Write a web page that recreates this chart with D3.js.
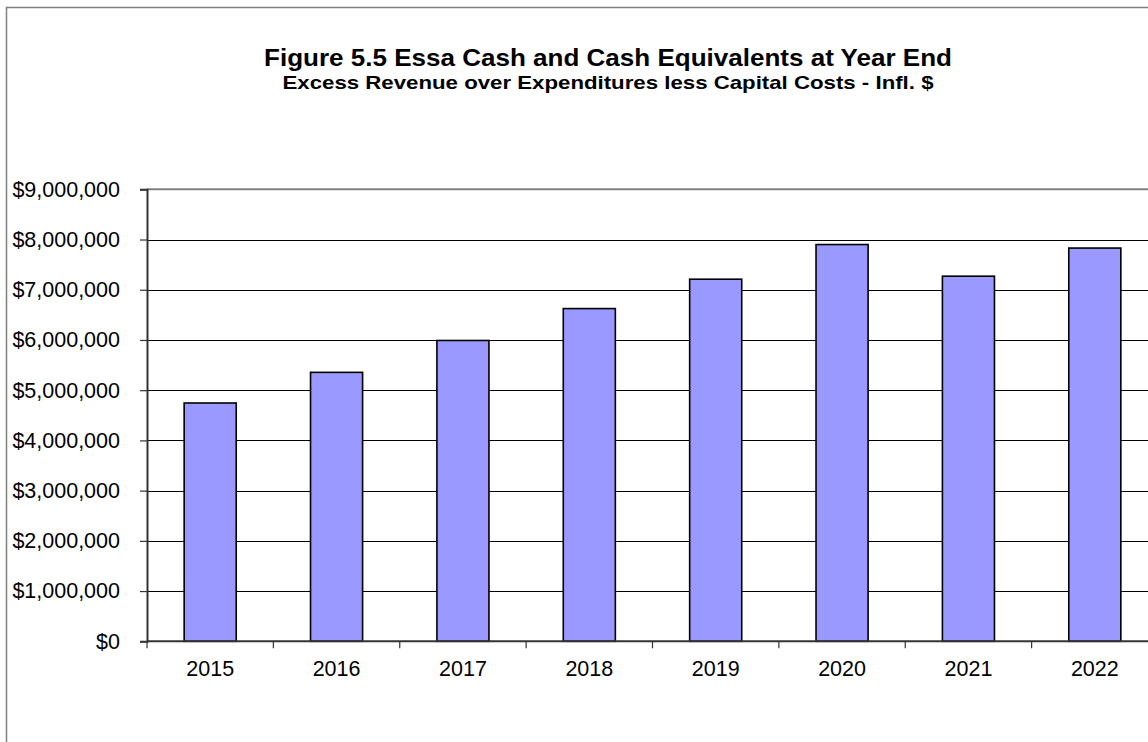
<!DOCTYPE html>
<html>
<head>
<meta charset="utf-8">
<script src="https://cdn.jsdelivr.net/npm/d3@7"></script>
<style>
  html, body { margin: 0; padding: 0; background: #fff; overflow: hidden; }
  svg { display: block; font-family: "Liberation Sans", Arial, sans-serif; }
</style>
</head>
<body>
<svg id="chart" width="1148" height="742"></svg>
<script>
// Year-end cash and cash equivalents (inflated dollars)
const years = ["2015", "2016", "2017", "2018", "2019", "2020", "2021", "2022"];
const cashValues = [4745000, 5355000, 5990000, 6625000, 7210000, 7900000, 7270000, 7830000];
const yTickValues = [0, 1000000, 2000000, 3000000, 4000000, 5000000, 6000000, 7000000, 8000000, 9000000];
const titleText = "Figure 5.5 Essa Cash and Cash Equivalents at Year End";
const subtitleText = "Excess Revenue over Expenditures less Capital Costs - Infl. $";

const svg = d3.select("#chart");

// Outer chart frame (runs past the right and bottom edges of the view)
svg.append("rect")
  .attr("x", 6.5).attr("y", 7.5)
  .attr("width", 1400).attr("height", 1000)
  .attr("fill", "#fff")
  .attr("stroke", "#808080")
  .attr("stroke-width", 1.5);

const plot = { left: 147, right: 1158, top: 189.3, bottom: 641.3 };

const x = d3.scaleBand()
  .domain(years)
  .range([plot.left, plot.right])
  .paddingInner(0.588)
  .paddingOuter(0.294);

const y = d3.scaleLinear()
  .domain([0, 9000000])
  .range([plot.bottom, plot.top]);

// Titles (wide, centred over the full chart frame)
const cx = 608;
svg.append("text")
  .attr("x", cx).attr("y", 66)
  .attr("text-anchor", "middle")
  .attr("font-weight", "bold")
  .attr("font-size", 24)
  .attr("textLength", 688)
  .attr("lengthAdjust", "spacingAndGlyphs")
  .text(titleText);
svg.append("text")
  .attr("x", cx).attr("y", 89)
  .attr("text-anchor", "middle")
  .attr("font-weight", "bold")
  .attr("font-size", 19)
  .attr("textLength", 651)
  .attr("lengthAdjust", "spacingAndGlyphs")
  .text(subtitleText);

// Horizontal gridlines
svg.append("g")
  .selectAll("line")
  .data(yTickValues.filter(v => v > 0 && v < 9000000))
  .join("line")
  .attr("x1", plot.left).attr("x2", plot.right)
  .attr("y1", d => Math.round(y(d)) + 0.5)
  .attr("y2", d => Math.round(y(d)) + 0.5)
  .attr("stroke", "#000")
  .attr("stroke-width", 1);

// Plot area top border
svg.append("line")
  .attr("x1", plot.left).attr("x2", plot.right)
  .attr("y1", y(9000000)).attr("y2", y(9000000))
  .attr("stroke", "#808080")
  .attr("stroke-width", 2);

// Bars
svg.append("g")
  .selectAll("rect")
  .data(years.map((yr, i) => ({ yr, v: cashValues[i] })))
  .join("rect")
  .attr("x", d => x(d.yr))
  .attr("y", d => y(d.v))
  .attr("width", x.bandwidth())
  .attr("height", d => y(0) - y(d.v))
  .attr("fill", "#9999ff")
  .attr("stroke", "#000")
  .attr("stroke-width", 1.6);

// Y axis
const fmt = v => "$" + d3.format(",")(v);
const yAxis = svg.append("g")
  .attr("transform", `translate(${plot.left},0)`)
  .call(d3.axisLeft(y).tickValues(yTickValues).tickFormat(fmt).tickSize(7).tickPadding(20));
yAxis.select(".domain").attr("stroke", "#333").attr("stroke-width", 2);
yAxis.selectAll(".tick line").attr("stroke", "#333").attr("stroke-width", 1.2);
yAxis.selectAll(".tick text")
  .attr("font-size", 21.5)
  .attr("font-family", "Liberation Sans, Arial, sans-serif")
  .attr("fill", "#000");

// X axis with ticks at category boundaries
const xAxis = svg.append("g")
  .attr("transform", `translate(0,${plot.bottom})`)
  .call(d3.axisBottom(x).tickSize(0).tickPadding(19));
xAxis.select(".domain").remove();
xAxis.selectAll(".tick text")
  .attr("font-size", 21.5)
  .attr("font-family", "Liberation Sans, Arial, sans-serif")
  .attr("fill", "#000");

svg.append("line")
  .attr("x1", plot.left).attr("x2", plot.right)
  .attr("y1", plot.bottom).attr("y2", plot.bottom)
  .attr("stroke", "#333")
  .attr("stroke-width", 2);

const step = x.step();
svg.append("g")
  .selectAll("line")
  .data(d3.range(years.length + 1))
  .join("line")
  .attr("x1", i => plot.left + i * step)
  .attr("x2", i => plot.left + i * step)
  .attr("y1", plot.bottom)
  .attr("y2", plot.bottom + 7)
  .attr("stroke", "#333")
  .attr("stroke-width", 1.2);
</script>
</body>
</html>
